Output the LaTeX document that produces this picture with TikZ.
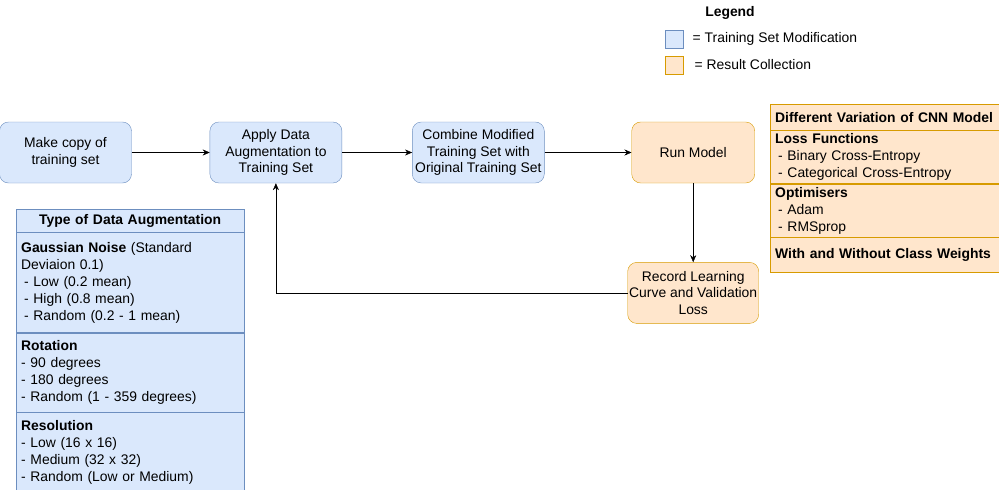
\documentclass[tikz,border=0pt]{standalone}
\usepackage{fontspec}
\setmainfont{Liberation Sans}
\usetikzlibrary{positioning, arrows.meta}
\definecolor{augFill}{HTML}{DAE8FC}
\definecolor{augLine}{HTML}{6C8EBF}
\definecolor{resFill}{HTML}{FFE6CC}
\definecolor{resLine}{HTML}{D79B00}

\begin{document}
\begin{tikzpicture}[
        x=1pt, y=-1pt,
        font=\fontsize{13.9}{16.5}\selectfont,
        box/.style={
          rectangle, draw=augLine, fill=augFill,
          rounded corners=9pt, minimum width=132pt, minimum height=61pt,
          align=center, inner sep=0.5pt
        },
        resbox/.style={box, draw=resLine, fill=resFill},
        cell/.style={
          rectangle, draw=augLine, fill=augFill,
          minimum width=228pt, text width=218pt, align=left,
          inner xsep=5pt, inner ysep=1pt,
          font=\fontsize{13.9}{17}\selectfont
        },
        cellTitle/.style={cell, font=\fontsize{13.9}{17}\selectfont\bfseries},
        rescell/.style={cell, draw=resLine, fill=resFill, minimum width=229pt, text width=219pt},
        rescellTitle/.style={rescell, font=\fontsize{13.9}{17}\selectfont\bfseries},
        keybox/.style={rectangle, minimum size=18pt, inner sep=0pt},
        edge/.style={-{Stealth[length=7pt, width=6pt]}, draw=black}
      ]
      \useasboundingbox (0,0) rectangle (999,490);

      % --- legend ---
      \node[font=\fontsize{13.9}{16}\selectfont\bfseries] (legend) at (730,13) {Legend};
      \node[keybox, draw=augLine, fill=augFill] (keyAug) at (674,39) {};
      \node[right=6pt of keyAug] (keyAugText) {= Training Set Modification};
      \node[keybox, draw=resLine, fill=resFill] (keyRes) at (674,65) {};
      \node[right=8pt of keyRes] (keyResText) {= Result Collection};

      % --- main flow ---
      \node[box] (copy) at (65.5,152.5) {Make copy of\\training set};
      \node[box, right=78pt of copy] (apply) {Apply Data\\Augmentation to\\Training Set};
      \node[box, right=70pt of apply] (combine) {Combine Modified\\Training Set with\\Original Training Set};
      \node[resbox, minimum width=123pt, right=87pt of combine] (run) {Run Model};
      \node[resbox, minimum width=131pt, below=79pt of run] (record) {Record Learning\\Curve and Validation\\Loss};

      \draw[edge] (copy) -- (apply);
      \draw[edge] (apply) -- (combine);
      \draw[edge] (combine) -- (run);
      \draw[edge] (run) -- (record);
      \draw[edge] (record.west) -| (apply.south);

      % --- augmentation table ---
      \node[cellTitle, align=center, minimum height=23pt, anchor=north west] (augHead) at (16,209) {Type of Data Augmentation};
      \node[cell, minimum height=100pt, below=0pt of augHead] (gauss) {\textbf{Gaussian Noise} (Standard\\Deviaion 0.1)\\
        \hspace*{3pt}- Low (0.2 mean)\\\hspace*{3pt}- High (0.8 mean)\\\hspace*{3pt}- Random (0.2 - 1 mean)};
      \node[cell, minimum height=79pt, below=0pt of gauss] (rotation) {\textbf{Rotation}\\- 90 degrees\\- 180 degrees\\- Random (1 - 359 degrees)};
      \node[cell, minimum height=79pt, below=0pt of rotation] (resolution) {\textbf{Resolution}\\- Low (16 x 16)\\- Medium (32 x 32)\\- Random (Low or Medium)};

      % --- model variation table ---
      \node[rescellTitle, minimum height=26pt, anchor=north west] (cnnHead) at (770,104) {Different Variation of CNN Model};
      \node[rescell, minimum height=53pt, below=0pt of cnnHead] (loss) {\textbf{Loss Functions}\\\hspace*{3pt}- Binary Cross-Entropy\\\hspace*{3pt}- Categorical Cross-Entropy};
      \node[rescell, minimum height=53pt, below=0pt of loss] (optim) {\textbf{Optimisers}\\\hspace*{3pt}- Adam\\\hspace*{3pt}- RMSprop};
      \node[rescellTitle, minimum height=35pt, below=0pt of optim] (weights) {With and Without Class Weights};

    \end{tikzpicture}
\end{document}
